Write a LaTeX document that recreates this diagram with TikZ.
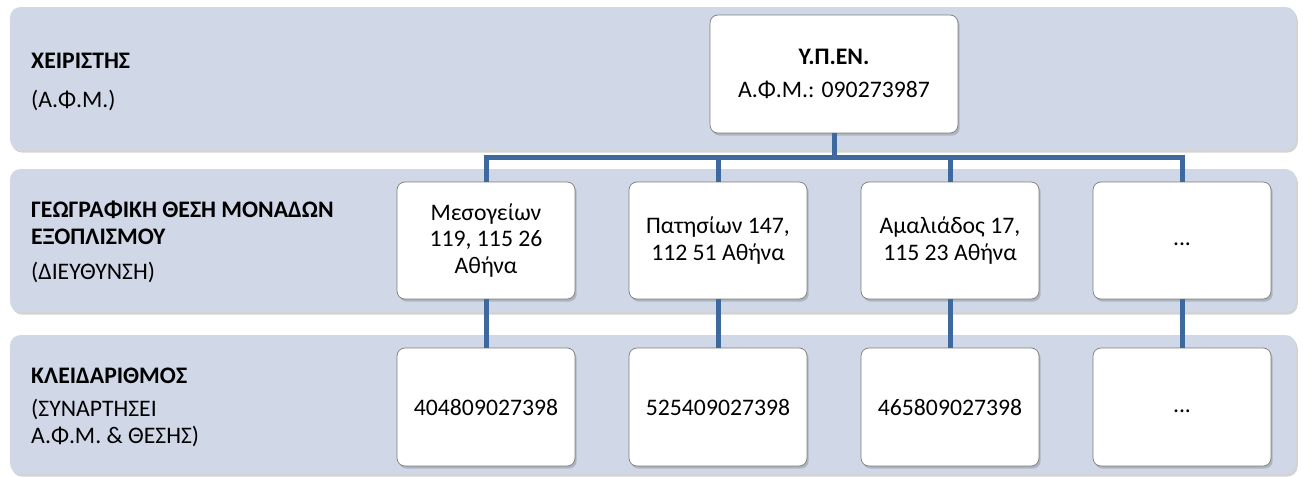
\documentclass[tikz,border=0pt]{standalone}
\usepackage{fontspec}
\setmainfont{Carlito}
\usetikzlibrary{shadows}

\definecolor{bandfill}{RGB}{208,216,232}
\definecolor{linkblue}{RGB}{62,105,158}
\definecolor{boxline}{RGB}{125,125,125}

\newcommand{\diagfont}{\fontsize{13.5}{15}\selectfont}

\tikzset{
	band/.style={fill=bandfill, rounded corners=6pt,
		drop shadow={shadow xshift=1pt, shadow yshift=-1.5pt, opacity=0.35}},
	unit/.style={draw=boxline, thin, fill=white, rounded corners=4.5pt,
		minimum width=3.56cm, minimum height=2.34cm, align=center,
		drop shadow={shadow xshift=1pt, shadow yshift=-1.5pt, opacity=0.4}},
	rowlabel/.style={anchor=west, align=left},
	link/.style={draw=linkblue, line width=0.1cm},
}

\begin{document}
\begin{tikzpicture}[x=0.02cm, y=-0.02cm, font=\diagfont]
		\useasboundingbox (0,0) rectangle (1303,477);
		
		% rows
		\fill[band] (10,7) rectangle (1296,150);
		\fill[band] (10,169) rectangle (1296,312);
		\fill[band] (10,335) rectangle (1296,474);
		
		\node[rowlabel] (rowA) at (25,82) {\textbf{ΧΕΙΡΙΣΤΗΣ}\\[7pt](Α.Φ.Μ.)};
		\node[rowlabel] (rowB) at (25,242) {\textbf{ΓΕΩΓΡΑΦΙΚΗ ΘΕΣΗ ΜΟΝΑΔΩΝ}\\\textbf{ΕΞΟΠΛΙΣΜΟΥ}\\[5pt](ΔΙΕΥΘΥΝΣΗ)};
		\node[rowlabel] (rowC) at (25,407) {\textbf{ΚΛΕΙΔΑΡΙΘΜΟΣ}\\[4pt](ΣΥΝΑΡΤΗΣΕΙ\\Α.Φ.Μ. \& ΘΕΣΗΣ)};
		
		% operator
		\node[unit, minimum width=4.96cm, minimum height=2.36cm] (ypen) at (834,74) {\textbf{Υ.Π.ΕΝ.}\\[4pt]Α.Φ.Μ.: 090273987};
		
		% addresses
		\node[unit] (addr1) at (486,240.5) {Μεσογείων\\119, 115 26\\Αθήνα};
		\node[unit] (addr2) at (718,240.5) {Πατησίων 147,\\112 51 Αθήνα};
		\node[unit] (addr3) at (950,240.5) {Αμαλιάδος 17,\\115 23 Αθήνα};
		\node[unit] (addr4) at (1182,240.5) {\strut...};
		
		% keys
		\node[unit, minimum height=2.36cm] (key1) at (486,407) {404809027398};
		\node[unit, minimum height=2.36cm] (key2) at (718,407) {525409027398};
		\node[unit, minimum height=2.36cm] (key3) at (950,407) {465809027398};
		\node[unit, minimum height=2.36cm] (key4) at (1182,407) {\strut...};
		
		\coordinate (bus) at (834,157);
		\draw[link] (ypen.south) -- (bus);
		\foreach \i in {1,...,4}
		{
			\draw[link] (bus) -| (addr\i.north);
			\draw[link] (addr\i.south) -- (key\i.north);
		}
\end{tikzpicture}
\end{document}
